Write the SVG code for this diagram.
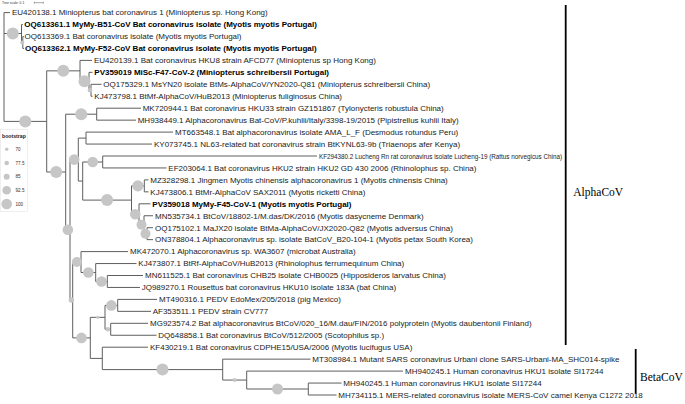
<svg xmlns="http://www.w3.org/2000/svg" width="685" height="404" viewBox="0 0 685 404">
<style>
.t{font-family:"Liberation Sans",Arial,sans-serif;font-size:8px;fill:#222}
.b{font-weight:bold;fill:#000}
.br{fill:none;stroke:#5e5e5e;stroke-width:1}
.bs{fill:#c6c6c6;stroke:none}
.cl{fill:none;stroke:#000;stroke-width:1.8}
.cn{font-family:"Liberation Serif","Times New Roman",serif;font-size:11.5px;fill:#000}
.lg{font-family:"Liberation Sans",Arial,sans-serif;font-size:4.6px;fill:#333}
</style>
<rect width="685" height="404" fill="#fff"/>
<g id="scale">
<text x="2" y="4.2" class="lg" style="font-size:3.4px">Tree scale: 0.1</text>
<path d="M34.3 2.7H43.3M34.3 1.7V3.7M43.3 1.7V3.7" stroke="#555" stroke-width="0.5" fill="none"/>
</g>
<g id="legend">
<rect x="0.5" y="129.5" width="27" height="82" fill="none" stroke="#e4e4e4" stroke-width="0.6"/>
<text x="2" y="137.6" class="lg" style="font-size:5.2px;font-weight:bold;fill:#222">bootstrap</text>
<circle class="bs" cx="6.7" cy="149.3" r="1.7"/><text x="15.5" y="150.9" class="lg">70</text>
<circle class="bs" cx="6.7" cy="163" r="2.3"/><text x="15.5" y="164.6" class="lg">77.5</text>
<circle class="bs" cx="6.7" cy="176.7" r="3"/><text x="15.5" y="178.3" class="lg">85</text>
<circle class="bs" cx="6.7" cy="190.3" r="4.3"/><text x="15.5" y="191.9" class="lg">92.5</text>
<circle class="bs" cx="6.7" cy="204" r="5.3"/><text x="15.5" y="205.6" class="lg">100</text>
</g>
<g id="connectors" class="br">
<path d="M4 12.6V121.4M4 12.6H10M4 33.5H21.5M4 121.4H46.7"/>
<path d="M21.5 24.55V42.5M21.5 24.55H22.8M21.5 42.5H22.8M22.8 36.5V48.45M22.8 36.5H23.8M22.8 48.45H24"/>
<path d="M46.7 70.85V172M46.7 70.85H80M46.7 172H65.7"/>
<path d="M80 60.4V81.3M80 60.4H92M80 81.3H89M89 72.35V90.3M89 72.35H92.5M89 90.3H91M91 84.3V96.25M91 84.3H101.5M91 96.25H92.5"/>
<path d="M65.7 114.2V229.8M65.7 114.2H96.7M65.7 229.8H70M96.7 108.2V120.15M96.7 108.2H141M96.7 120.15H136"/>
<path d="M70 159.6V300M70 159.6H78.3M70 300H72.7"/>
<path d="M78.3 138.1V181.05M78.3 138.1H86M78.3 181.05H82.7M86 132.1V144.05M86 132.1H173M86 144.05H152"/>
<path d="M82.7 162V200.1M82.7 162H102.7M82.7 200.1H131.5M102.7 156V167.95M102.7 156H317M102.7 167.95H166.5"/>
<path d="M131.5 185.9V214.3M131.5 185.9H144.3M131.5 214.3H139M144.3 179.9V191.85M144.3 179.9H148.5M144.3 191.85H148.5"/>
<path d="M139 203.8V224.7M139 203.8H150.5M139 224.7H144M144 215.75V233.7M144 215.75H153M144 233.7H147M147 227.7V239.65M147 227.7H153M147 239.65H153"/>
<path d="M72.7 262.05V337.9M72.7 262.05H81M72.7 337.9H90.3"/>
<path d="M81 251.6V272.5M81 251.6H128M81 272.5H95.7M95.7 263.55V281.5M95.7 263.55H136.5M95.7 281.5H107.3M107.3 275.5V287.45M107.3 275.5H143M107.3 287.45H140"/>
<path d="M90.3 317.35V358.4M90.3 317.35H105M90.3 358.4H102.3"/>
<path d="M105 305.4V329.3M105 305.4H117.7M105 329.3H110.7M117.7 299.4V311.35M117.7 299.4H157M117.7 311.35H151M110.7 323.3V335.25M110.7 323.3H148M110.7 335.25H156.5"/>
<path d="M102.3 347.2V369.6M102.3 347.2H148M102.3 369.6H222.7"/>
<path d="M222.7 359.15V380.05M222.7 359.15H310.5M222.7 380.05H246.7M246.7 371.1V389M246.7 371.1H403M246.7 389H308.3M308.3 383.05V395M308.3 383.05H341.5M308.3 395H336.5"/>
</g>
<g id="bootstrap-nodes">
<circle id="n-A" class="bs" cx="25.3" cy="121.4" r="6"/>
<circle id="n-O" class="bs" cx="12.75" cy="33.5" r="6"/>
<circle id="n-O2" class="bs" cx="22.2" cy="42.5" r="2"/>
<circle id="n-B" class="bs" cx="63.3" cy="70.85" r="6"/>
<circle id="n-B2" class="bs" cx="84.5" cy="81.3" r="6"/>
<circle id="n-B3" class="bs" cx="90" cy="90.3" r="2.3"/>
<circle id="n-C" class="bs" cx="56.2" cy="172" r="6"/>
<circle id="n-D" class="bs" cx="81.2" cy="114.2" r="6"/>
<circle id="n-E" class="bs" cx="67.85" cy="229.8" r="5.3"/>
<circle id="n-F" class="bs" cx="74.2" cy="159.6" r="5.3"/>
<circle id="n-K" class="bs" cx="92.7" cy="162" r="5.3"/>
<circle id="n-M" class="bs" cx="107.1" cy="200.1" r="6"/>
<circle id="n-MZ" class="bs" cx="137.9" cy="185.9" r="5.6"/>
<circle id="n-N" class="bs" cx="135.25" cy="214.3" r="5.3"/>
<circle id="n-N2" class="bs" cx="141.5" cy="224.7" r="5"/>
<circle id="n-N3" class="bs" cx="145.5" cy="233.7" r="5"/>
<circle id="n-G" class="bs" cx="71.35" cy="300" r="2.7"/>
<circle id="n-P" class="bs" cx="76.85" cy="262.05" r="5"/>
<circle id="n-P2" class="bs" cx="88.35" cy="272.5" r="5.3"/>
<circle id="n-P3" class="bs" cx="101.5" cy="281.5" r="5.3"/>
<circle id="n-Q" class="bs" cx="81.5" cy="337.9" r="5.3"/>
<circle id="n-R" class="bs" cx="97.65" cy="317.35" r="1.7"/>
<circle id="n-R1" class="bs" cx="111.35" cy="305.4" r="5.3"/>
<circle id="n-R2" class="bs" cx="107.85" cy="329.3" r="2.3"/>
<circle id="n-Beta" class="bs" cx="162.5" cy="369.6" r="6"/>
<circle id="n-Beta2" class="bs" cx="234.7" cy="380.05" r="2"/>
<circle id="n-Beta3" class="bs" cx="277.5" cy="389" r="5.5"/>
</g>
<g id="leaf-EU420138"><text class="t" x="12" y="15.4">EU420138.1 Miniopterus bat coronavirus 1 (Miniopterus sp. Hong Kong)</text></g>
<g id="leaf-OQ613361"><text class="t b" x="24.3" y="27.35">OQ613361.1 MyMy-B51-CoV Bat coronavirus isolate (Myotis myotis Portugal)</text></g>
<g id="leaf-OQ613369"><text class="t" x="24.5" y="39.3">OQ613369.1 Bat coronavirus isolate (Myotis myotis Portugal)</text></g>
<g id="leaf-OQ613362"><text class="t b" x="25" y="51.25">OQ613362.1 MyMy-F52-CoV Bat coronavirus isolate (Myotis myotis Portugal)</text></g>
<g id="leaf-EU420139"><text class="t" x="94" y="63.2">EU420139.1 Bat coronavirus HKU8 strain AFCD77 (Miniopterus sp Hong Kong)</text></g>
<g id="leaf-PV359019"><text class="t b" x="94.3" y="75.15">PV359019 MiSc-F47-CoV-2 (Miniopterus schreibersii Portugal)</text></g>
<g id="leaf-OQ175329"><text class="t" x="103.3" y="87.1">OQ175329.1 MsYN20 isolate BtMs-AlphaCoV/YN2020-Q81 (Miniopterus schreibersii China)</text></g>
<g id="leaf-KJ473798"><text class="t" x="94.3" y="99.05">KJ473798.1 BtMf-AlphaCoV/HuB2013 (Miniopterus fuliginosus China)</text></g>
<g id="leaf-MK720944"><text class="t" x="142.7" y="111">MK720944.1 Bat coronavirus HKU33 strain GZ151867 (Tylonycteris robustula China)</text></g>
<g id="leaf-MH938449"><text class="t" x="137.7" y="122.95">MH938449.1 Alphacoronavirus Bat-CoV/P.kuhlii/Italy/3398-19/2015 (Pipistrellus kuhlii Italy)</text></g>
<g id="leaf-MT663548"><text class="t" x="175" y="134.9">MT663548.1 Bat alphacoronavirus isolate AMA_L_F (Desmodus rotundus Peru)</text></g>
<g id="leaf-KY073745"><text class="t" x="154" y="146.85">KY073745.1 NL63-related bat coronavirus strain BtKYNL63-9b (Triaenops afer Kenya)</text></g>
<g id="leaf-KF294380"><text class="t" x="319" y="158.8" textLength="243" lengthAdjust="spacingAndGlyphs">KF294380.2 Lucheng Rn rat coronavirus isolate Lucheng-19 (Rattus norvegicus China)</text></g>
<g id="leaf-EF203064"><text class="t" x="168.3" y="170.75">EF203064.1 Bat coronavirus HKU2 strain HKU2 GD 430 2006 (Rhinolophus sp. China)</text></g>
<g id="leaf-MZ328298"><text class="t" x="150.3" y="182.7">MZ328298.1 Jingmen Myotis chinensis alphacoronavirus 1 (Myotis chinensis China)</text></g>
<g id="leaf-KJ473806"><text class="t" x="150.3" y="194.65">KJ473806.1 BtMr-AlphaCoV SAX2011 (Myotis ricketti China)</text></g>
<g id="leaf-PV359018"><text class="t b" x="152.3" y="206.6">PV359018 MyMy-F45-CoV-1 (Myotis myotis Portugal)</text></g>
<g id="leaf-MN535734"><text class="t" x="155" y="218.55">MN535734.1 BtCoV/18802-1/M.das/DK/2016 (Myotis dasycneme Denmark)</text></g>
<g id="leaf-OQ175102"><text class="t" x="155" y="230.5">OQ175102.1 MaJX20 isolate BtMa-AlphaCoV/JX2020-Q82 (Myotis adversus China)</text></g>
<g id="leaf-ON378804"><text class="t" x="155" y="242.45">ON378804.1 Alphacoronavirus sp. isolate BatCoV_B20-104-1 (Myotis petax South Korea)</text></g>
<g id="leaf-MK472070"><text class="t" x="130" y="254.4">MK472070.1 Alphacoronavirus sp. WA3607 (microbat Australia)</text></g>
<g id="leaf-KJ473807"><text class="t" x="138.3" y="266.35">KJ473807.1 BtRf-AlphaCoV/HuB2013 (Rhinolophus ferrumequinum China)</text></g>
<g id="leaf-MN611525"><text class="t" x="145" y="278.3">MN611525.1 Bat coronavirus CHB25 isolate CHB0025 (Hipposideros larvatus China)</text></g>
<g id="leaf-JQ989270"><text class="t" x="141.7" y="290.25">JQ989270.1 Rousettus bat coronavirus HKU10 isolate 183A (bat China)</text></g>
<g id="leaf-MT490316"><text class="t" x="159" y="302.2">MT490316.1 PEDV EdoMex/205/2018 (pig Mexico)</text></g>
<g id="leaf-AF353511"><text class="t" x="152.7" y="314.15">AF353511.1 PEDV strain CV777</text></g>
<g id="leaf-MG923574"><text class="t" x="150" y="326.1">MG923574.2 Bat alphacoronavirus BtCoV/020_16/M.dau/FIN/2016 polyprotein (Myotis daubentonii Finland)</text></g>
<g id="leaf-DQ648858"><text class="t" x="158.3" y="338.05">DQ648858.1 Bat coronavirus BtCoV/512/2005 (Scotophilus sp.)</text></g>
<g id="leaf-KF430219"><text class="t" x="150" y="350">KF430219.1 Bat coronavirus CDPHE15/USA/2006 (Myotis lucifugus USA)</text></g>
<g id="leaf-MT308984"><text class="t" x="312.3" y="361.95">MT308984.1 Mutant SARS coronavirus Urbani clone SARS-Urbani-MA_SHC014-spike</text></g>
<g id="leaf-MH940245a"><text class="t" x="405" y="373.9">MH940245.1 Human coronavirus HKU1 isolate SI17244</text></g>
<g id="leaf-MH940245b"><text class="t" x="343.3" y="385.85">MH940245.1 Human coronavirus HKU1 isolate SI17244</text></g>
<g id="leaf-MH734115"><text class="t" x="338.3" y="397.8">MH734115.1 MERS-related coronavirus isolate MERS-CoV camel Kenya C1272 2018</text></g>
<g id="clade-AlphaCoV">
<line class="cl" x1="565.7" y1="5" x2="565.7" y2="345"/>
<text class="cn" x="573.3" y="195.5">AlphaCoV</text>
</g>
<g id="clade-BetaCoV">
<line class="cl" x1="635.7" y1="349" x2="635.7" y2="393.5"/>
<text class="cn" x="640" y="380.5">BetaCoV</text>
</g>
</svg>
